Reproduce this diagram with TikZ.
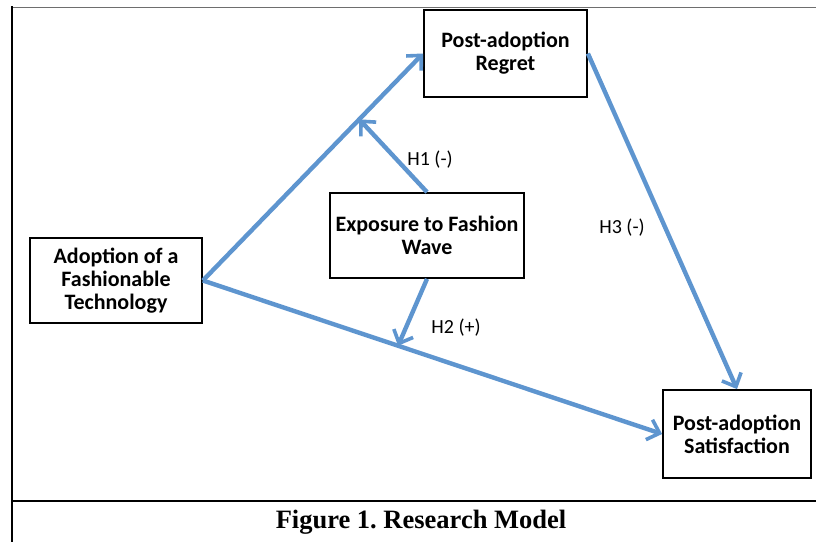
\documentclass[tikz,border=0pt]{standalone}
\usepackage{fontspec}
\setmainfont{Carlito}
\newfontfamily\capfont{Liberation Serif}
\usepackage{xcolor}
\usetikzlibrary{arrows.meta,positioning,calc,shadows}
\definecolor{pathblue}{HTML}{5E95CF}
\definecolor{rulegray}{HTML}{6E6E6E}

\begin{document}
\begin{tikzpicture}[
  x=1pt, y=-1pt,
  var/.style={draw=black, line width=1.8pt, fill=white, align=center,
              font=\fontsize{22}{23}\selectfont\bfseries,
              drop shadow={opacity=0.25, shadow xshift=1.2pt, shadow yshift=-1.2pt}},
  hyp/.style={font=\fontsize{20}{22}\selectfont},
  arr/.style={-{Straight Barb[length=11pt,width=21pt,line width=3.6pt]}, line width=4.4pt, pathblue}]
  \useasboundingbox (0,0) rectangle (816,542);
  % frame
  \draw[rulegray, line width=0.8pt] (12,7) -- (816,7);
  \draw[line width=2pt] (12,6) -- (12,542);
  \draw[line width=2pt] (12,501) -- (816,501);
  \node[font=\capfont\fontsize{26.5}{28}\selectfont\bfseries] (cap) at (421,522) {Figure 1.\ Research Model};
  % variables
  \node[var, minimum width=172pt, minimum height=85pt] (adopt) at (116,280.5) {Adoption of a\\ Fashionable\\ Technology};
  \node[var, minimum width=194pt, minimum height=85pt] (expo) at (427,235.5) {Exposure to Fashion\\ Wave};
  \node[var, minimum width=163pt, minimum height=87pt] (regret) at (505.5,53.5) {Post-adoption\\ Regret};
  \node[var, minimum width=148pt, minimum height=88pt] (satis) at (737,434) {Post-adoption\\ Satisfaction};
  % moderation points
  \coordinate (m1) at ($(adopt.east)!0.71!(regret.west)$);
  \coordinate (m2) at ($(adopt.east)!0.425!(satis.west)$);
  % paths
  \draw[arr] (adopt.east) -- (regret.west);
  \draw[arr] (adopt.east) -- (satis.west);
  \draw[arr] (regret.east) -- (satis.north);
  \draw[arr] (expo.north) -- (m1);
  \draw[arr] (expo.south) -- (m2);
  % hypotheses
  \node[hyp] (h1) at (430,160) {H1 (-)};
  \node[hyp] (h2) at (456,328) {H2 (+)};
  \node[hyp] (h3) at (622,228) {H3 (-)};
\end{tikzpicture}
\end{document}
